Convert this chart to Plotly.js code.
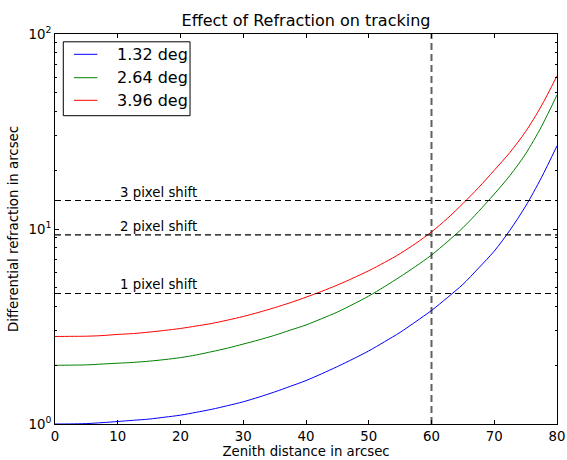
<!DOCTYPE html>
<html>
<head>
<meta charset="utf-8">
<script src="https://cdn.plot.ly/plotly-3.0.1.min.js"></script>
<style>
  html, body { margin: 0; padding: 0; background: #fff; }
  #chart { width: 567px; height: 460px; }
</style>
</head>
<body>
<div id="chart"></div>
<script>
// Zenith distance samples (every 2.5) and differential refraction (arcsec) for three field sizes
const zenith = [0, 2.5, 5, 7.5, 10, 12.5, 15, 17.5, 20, 22.5, 25, 27.5, 30, 32.5, 35, 37.5, 40,
                42.5, 45, 47.5, 50, 52.5, 55, 57.5, 60, 62.5, 65, 67.5, 70, 72.5, 75, 77.5, 80];
const refr132 = [1.00, 1.001, 1.005, 1.016, 1.03, 1.045, 1.06, 1.084, 1.11, 1.148, 1.19, 1.242, 1.30, 1.374, 1.46, 1.56, 1.67,
                 1.81, 1.97, 2.156, 2.37, 2.64, 2.95, 3.35, 3.82, 4.44, 5.2, 6.30, 7.7, 9.86, 13.1, 18.3, 26.7];
const refr264 = [2.00, 2.004, 2.01, 2.03, 2.05, 2.07, 2.10, 2.14, 2.19, 2.26, 2.35, 2.45, 2.57, 2.70, 2.85, 3.03, 3.22,
                 3.47, 3.75, 4.11, 4.53, 5.06, 5.69, 6.44, 7.35, 8.59, 10.14, 12.3, 15.1, 18.8, 24.3, 33.4, 48.7];
const refr396 = [2.81, 2.815, 2.82, 2.84, 2.88, 2.91, 2.96, 3.02, 3.09, 3.18, 3.28, 3.41, 3.56, 3.74, 3.95, 4.19, 4.47,
                 4.79, 5.16, 5.60, 6.11, 6.73, 7.48, 8.44, 9.66, 11.31, 13.5, 16.3, 20.0, 24.7, 31.6, 42.7, 61.0];
const seriesNames = ['1.32 deg', '2.64 deg', '3.96 deg'];
const seriesColors = ['#0000ff', '#008000', '#ff0000'];

// Pixel-shift thresholds (arcsec) and the zenith-distance marker
const shiftValues = [4.67, 9.33, 14.0];
const shiftLabels = ['1 pixel shift', '2 pixel shift', '3 pixel shift'];
const markerZenith = 60;

const xRange = [0, 80];
const yDecades = [1, 10, 100];
const yDecadeLabels = ['10<sup>0</sup>', '10<sup>1</sup>', '10<sup>2</sup>'];
const xTicks = [0, 10, 20, 30, 40, 50, 60, 70, 80];

const FONT = 'DejaVu Sans, Liberation Sans, sans-serif';

const seriesValues = [refr132, refr264, refr396];
const traces = seriesValues.map((ys, i) => ({
  type: 'scatter', mode: 'lines', x: zenith, y: ys, name: seriesNames[i],
  line: { color: seriesColors[i], width: 1, shape: 'spline', smoothing: 0.8 },
  showlegend: false, hoverinfo: 'skip'
}));

shiftValues.forEach(v => traces.push({
  type: 'scatter', mode: 'lines', x: xRange, y: [v, v],
  line: { color: '#000', width: 1.1, dash: '6px,4px' },
  showlegend: false, hoverinfo: 'skip'
}));

traces.push({
  type: 'scatter', mode: 'lines', x: [markerZenith, markerZenith], y: [yDecades[0], yDecades[2]],
  line: { color: 'rgba(0,0,0,0.62)', width: 2, dash: '7px,4px' },
  showlegend: false, hoverinfo: 'skip'
});

// Minor ticks at 2..9 of every decade
const minorVals = [];
for (let d = 1; d < 100; d *= 10) for (let k = 2; k <= 9; k++) minorVals.push(k * d);

const annotations = shiftValues.map((v, i) => ({
  x: 10, y: Math.log10(v), xref: 'x', yref: 'y', text: shiftLabels[i],
  xanchor: 'left', yanchor: 'bottom', showarrow: false, yshift: -1,
  font: { family: FONT, size: 13.3, color: '#000' }
}));

// Hand-built legend box in paper coordinates
const shapes = [{
  type: 'rect', xref: 'paper', yref: 'paper', x0: 0.0165, x1: 0.269, y0: 0.7905, y1: 0.980,
  line: { color: '#000', width: 1 }, fillcolor: '#fff', layer: 'above'
}];
const rowY = [0.9479, 0.8879, 0.8300];
seriesNames.forEach((name, i) => {
  shapes.push({
    type: 'line', xref: 'paper', yref: 'paper', x0: 0.0378, x1: 0.0843, y0: rowY[i], y1: rowY[i],
    line: { color: seriesColors[i], width: 1 }, layer: 'above'
  });
  annotations.push({
    xref: 'paper', yref: 'paper', x: 0.1195, y: rowY[i], text: name,
    xanchor: 'left', yanchor: 'middle', showarrow: false,
    font: { family: FONT, size: 16, color: '#000' }
  });
});

const axisCommon = {
  showline: true, linecolor: '#000', linewidth: 1, mirror: 'allticks',
  ticks: 'inside', ticklen: 4, tickwidth: 1, tickcolor: '#000',
  showgrid: false, zeroline: false,
  tickfont: { family: FONT, size: 13.3, color: '#000' }
};

const layout = {
  width: 567, height: 460,
  margin: { l: 55, r: 10, t: 34, b: 36 },
  paper_bgcolor: '#fff', plot_bgcolor: '#fff',
  font: { family: FONT, color: '#000' },
  title: {
    text: 'Effect of Refraction on tracking',
    font: { family: FONT, size: 16, color: '#000' },
    x: 0.5, xref: 'paper', y: 1 - 20 / 460, yref: 'container', yanchor: 'middle'
  },
  xaxis: Object.assign({}, axisCommon, {
    range: xRange, tickmode: 'array', tickvals: xTicks,
    title: { text: 'Zenith distance in arcsec', font: { family: FONT, size: 13.3, color: '#000' }, standoff: 2 }
  }),
  yaxis: Object.assign({}, axisCommon, {
    type: 'log', range: [0, 2], tickmode: 'array', tickvals: yDecades, ticktext: yDecadeLabels,
    minor: { ticks: 'inside', ticklen: 2, tickwidth: 1, tickcolor: '#000', tickmode: 'array', tickvals: minorVals, showgrid: false },
    title: { text: 'Differential refraction in arcsec', font: { family: FONT, size: 13.3, color: '#000' }, standoff: 6 }
  }),
  shapes: shapes,
  annotations: annotations,
  showlegend: false
};

Plotly.newPlot('chart', traces, layout, { staticPlot: true, displayModeBar: false });
</script>
</body>
</html>
